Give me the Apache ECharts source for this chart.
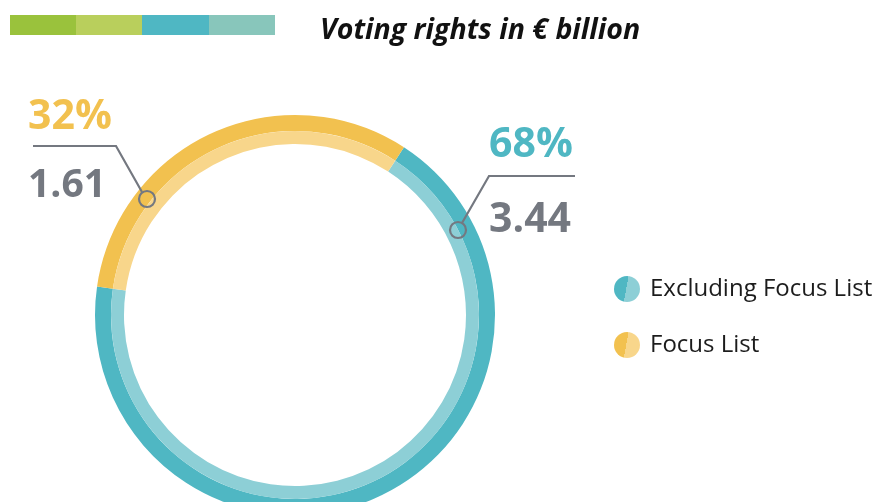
<!DOCTYPE html>
<html><head><meta charset="utf-8">
<script src="https://cdn.jsdelivr.net/npm/echarts@6/dist/echarts.min.js"></script>
<style>html,body{margin:0;padding:0;background:#fff}#c{width:882px;height:502px}</style>
</head><body><div id="c"></div>
<script>
const categories = ['Excluding Focus List', 'Focus List'];
const values = [3.44, 1.61];
const percentLabels = ['68%', '32%'];
const valueLabels = ['3.44', '1.61'];
const title = 'Voting rights in € billion';

const dark = ['#4fb7c3', '#f2c14f'];
const light = ['#8dcfd6', '#f8d68b'];
const gray = '#747880';
const font = '"Open Sans", Lato, sans-serif';

function split(i) {
  return new echarts.graphic.LinearGradient(0, 0.41, 1, 0.59, [
    {offset: 0, color: dark[i]}, {offset: 0.47, color: dark[i]},
    {offset: 0.47, color: light[i]}, {offset: 1, color: light[i]}
  ]);
}

const chart = echarts.init(document.getElementById('c'), null, {renderer: 'canvas'});
const pieBase = {
  type: 'pie', center: [295, 315], startAngle: 57, clockwise: true,
  silent: true, avoidLabelOverlap: false, label: {show: false}, labelLine: {show: false},
  emphasis: {disabled: true}, animation: false
};
chart.setOption({
  animation: false,
  title: {text: title, left: 475, textAlign: 'center', top: 11,
    textStyle: {fontFamily: font, fontSize: 28.5, fontWeight: 'bold', fontStyle: 'italic', color: '#111'}},
  legend: {
    orient: 'vertical', left: 609, top: 271, itemWidth: 26, itemHeight: 26, itemGap: 30,
    icon: 'circle', selectedMode: false,
    textStyle: {fontFamily: font, fontSize: 24, color: '#1c1c1c', padding: [0, 0, 0, 5]},
    data: categories.map((n, i) => ({name: n, itemStyle: {color: split(i)}}))
  },
  series: [
    Object.assign({}, pieBase, {name: 'outer', radius: [184, 200],
      data: categories.map((n, i) => ({name: n, value: values[i], itemStyle: {color: dark[i]}}))}),
    Object.assign({}, pieBase, {name: 'inner', radius: [171, 184],
      data: categories.map((n, i) => ({name: n, value: values[i], itemStyle: {color: light[i]}}))})
  ],
  graphic: [
    {type: 'rect', z: 100, shape: {x: 10, y: 15, width: 66, height: 20}, style: {fill: '#9ac23c'}},
    {type: 'rect', z: 100, shape: {x: 76, y: 15, width: 66, height: 20}, style: {fill: '#b9cf5c'}},
    {type: 'rect', z: 100, shape: {x: 142, y: 15, width: 67, height: 20}, style: {fill: '#4fb7c3'}},
    {type: 'rect', z: 100, shape: {x: 209, y: 15, width: 66, height: 20}, style: {fill: '#88c6bb'}},
    // Focus list annotation
    {type: 'polyline', z: 100, shape: {points: [[33, 146], [116, 146], [142, 192]]}, style: {stroke: gray, lineWidth: 2.2, fill: null}},
    {type: 'circle', z: 100, shape: {cx: 147, cy: 199, r: 8}, style: {stroke: gray, lineWidth: 2.2, fill: 'rgba(0,0,0,0)'}},
    {type: 'text', z: 100, x: 28, y: 117, style: {text: percentLabels[1], font: 'bold 41px ' + font, fill: dark[1], verticalAlign: 'middle'}},
    {type: 'text', z: 100, x: 28, y: 186, style: {text: valueLabels[1], font: 'bold 39px ' + font, fill: gray, verticalAlign: 'middle'}},
    // Excluding annotation
    {type: 'polyline', z: 100, shape: {points: [[575, 176], [489, 176], [462, 223]]}, style: {stroke: gray, lineWidth: 2.2, fill: null}},
    {type: 'circle', z: 100, shape: {cx: 458, cy: 230, r: 8}, style: {stroke: gray, lineWidth: 2.2, fill: 'rgba(0,0,0,0)'}},
    {type: 'text', z: 100, x: 489, y: 145, style: {text: percentLabels[0], font: 'bold 41px ' + font, fill: dark[0], verticalAlign: 'middle'}},
    {type: 'text', z: 100, x: 489, y: 220, style: {text: valueLabels[0], font: 'bold 41px ' + font, fill: gray, verticalAlign: 'middle'}}
  ]
});
</script></body></html>
